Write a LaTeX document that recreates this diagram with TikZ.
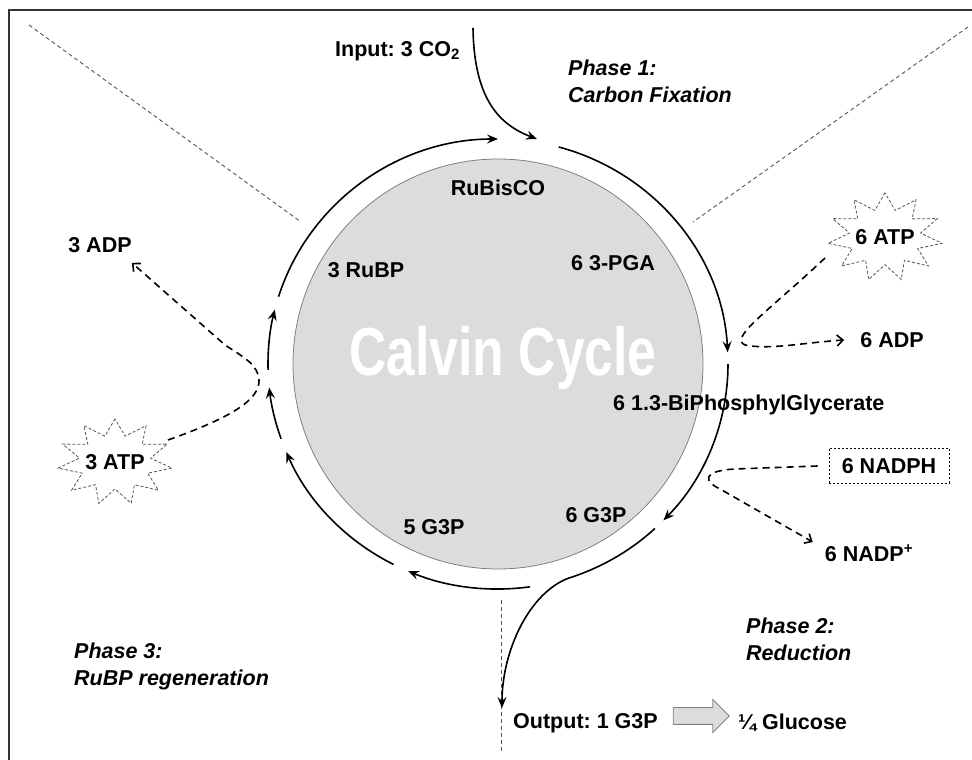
\documentclass[tikz,border=0pt]{standalone}
\usepackage{fontspec}
\setmainfont{Liberation Sans}
\usetikzlibrary{arrows.meta,shapes.geometric,shapes.arrows}
\newcommand\labfont{\fontsize{21.5}{25}\selectfont\bfseries}
\newcommand\phasefont{\fontsize{21.5}{27}\selectfont\bfseries\itshape}
\definecolor{framegray}{HTML}{333333}
\definecolor{circfill}{HTML}{DCDCDC}
\definecolor{circline}{HTML}{808080}
\definecolor{dgray}{HTML}{555555}
\frenchspacing
\begin{document}
\begin{tikzpicture}[x=1pt,y=1pt,
  lab/.style={font=\labfont, inner sep=2pt},
  phase/.style={font=\phasefont, align=left, inner sep=0pt, anchor=west},
  ringarc/.style={line width=1.6pt},
  tip/.style={-{Stealth[length=11pt,width=9pt,inset=4pt]}},
  guide/.style={draw=dgray, line width=0.9pt, dash pattern=on 4pt off 3pt},
  dconn/.style={line width=1.6pt, dash pattern=on 7pt off 5pt, -{Straight Barb[length=6pt,width=11pt]}},
  starbox/.style={star, star points=11, star point ratio=1.6, minimum size=115pt, draw=dgray, line width=0.8pt, dash pattern=on 3pt off 2pt, transform shape},
]
\useasboundingbox (0,0) rectangle (972,760);
% frame
\draw[framegray, line width=1.5pt] (9,0) -- (9,750) -- (972,750);
% guide lines
\coordinate (gl1) at (29,735); \coordinate (gl2) at (301,538);
\coordinate (gr1) at (968,733); \coordinate (gr2) at (693,538);
\coordinate (gv1) at (501,160); \coordinate (gv2) at (501,8);
\draw[guide] (gl1) -- (gl2);
\draw[guide] (gr1) -- (gr2);
\draw[guide] (gv1) -- (gv2);
% central disc
\coordinate (C) at (498,396);
\node[circle, fill=circfill, draw=circline, line width=0.8pt, minimum size=410pt, inner sep=0pt] (cyc) at (C) {};
\node[text=white, font=\fontsize{68}{70}\selectfont\bfseries] (calvin) at (503,402) {\scalebox{0.76}[1]{Calvin Cycle}};
% labels inside / around
\node[lab] (rubisco) at (498,572) {RuBisCO};
\node[lab] (rubp) at (366,490) {3 RuBP};
\node[lab] (pga) at (613,497) {6 3-PGA};
\node[lab, anchor=west] (bpg) at (611,355) {6 1.3-BiPhosphylGlycerate};
\node[lab] (g3p5) at (434,233) {5 G3P};
\node[lab] (g3p6) at (596,245) {6 G3P};
\node[lab, anchor=west] (inp) at (333,709) {Input: 3 CO\textsubscript{2}};
\node[lab, anchor=west] (outp) at (511,37) {Output: 1 G3P};
\node[lab, anchor=west] (gluc) at (736,37) {¼ Glucose};
\node[single arrow, draw=circline, fill=circfill, line width=0.8pt, minimum height=56pt, inner xsep=0pt, inner ysep=8pt, single arrow head extend=8pt] (blk) at (697,44) {};
% phases
\node[phase] (ph1) at (568,679) {Phase 1:\\Carbon Fixation};
\node[phase] (ph2) at (746,121) {Phase 2:\\Reduction};
\node[phase] (ph3) at (74,94) {Phase 3:\\RuBP regeneration};
% energy carriers
\begin{scope}[shift={(885,523)}, yscale=0.77]
  \node[starbox] (atp6s) at (0,0) {};
\end{scope}
\node[lab] (atp6) at (885,523) {6 ATP};
\begin{scope}[shift={(115,298)}, yscale=0.75]
  \node[starbox] (atp3s) at (0,0) {};
\end{scope}
\node[lab] (atp3) at (115,298) {3 ATP};
\node[lab] (adp6) at (892,420) {6 ADP};
\node[lab] (adp3) at (100,515) {3 ADP};
\node[lab, draw, dash pattern=on 2pt off 2pt, line width=0.7pt, minimum width=120pt, minimum height=35pt] (nadph) at (889,294) {6 NADPH};
\node[lab] (nadpp) at (869,207) {6 NADP\textsuperscript{+}};
% cycle ring
\draw[ringarc,tip] (C) ++(162.6:230 and 225) arc[start angle=162.6,end angle=90,x radius=230,y radius=225];
\draw[ringarc,tip] (C) ++(74.7:230 and 225) arc[start angle=74.7,end angle=3,x radius=230,y radius=225];
\draw[ringarc,tip] (C) ++(0:230 and 225) arc[start angle=0,end angle=-44,x radius=230,y radius=225];
\coordinate (outtip) at (502,52);
\draw[ringarc,tip] (C) ++(-47:230 and 225) arc[start angle=-47,end angle=-72,x radius=230,y radius=225] .. controls (530,168) and (502,110) .. (outtip);
\draw[ringarc,tip] (C) ++(-82:230 and 225) arc[start angle=-82,end angle=-113,x radius=230,y radius=225];
\draw[ringarc,tip] (C) ++(-117:230 and 225) arc[start angle=-117,end angle=-157,x radius=230,y radius=225];
\draw[ringarc,tip] (C) ++(-160.6:230 and 225) arc[start angle=-160.6,end angle=-174,x radius=230,y radius=225];
\draw[ringarc,tip] (C) ++(-178.5:230 and 225) arc[start angle=-178.5,end angle=-194,x radius=230,y radius=225];
% input
\coordinate (intop) at (473,732);
\coordinate (inend) at (537,621);
\draw[ringarc,tip] (intop) .. controls (474,660) and (500,635) .. (inend);
% dashed connectors
\draw[dconn] ([shift={(-60,-21)}]atp6.center) .. controls (770,450) and (728,422) .. (745,415) .. controls (770,410) and (800,417) .. ([xshift=-14pt]adp6.west);
\draw[dconn] ([xshift=-11pt]nadph.west) -- (735,291) .. controls (700,289) and (705,278) .. (720,271) -- ([shift={(-10,11)}]nadpp.west);
\draw[dconn] ([shift={(53,22)}]atp3.center) .. controls (230,342) and (260,360) .. (259,380) .. controls (258,395) and (245,402) .. (225,415) -- ([shift={(-2,-8)}]adp3.south east);
\end{tikzpicture}
\end{document}
